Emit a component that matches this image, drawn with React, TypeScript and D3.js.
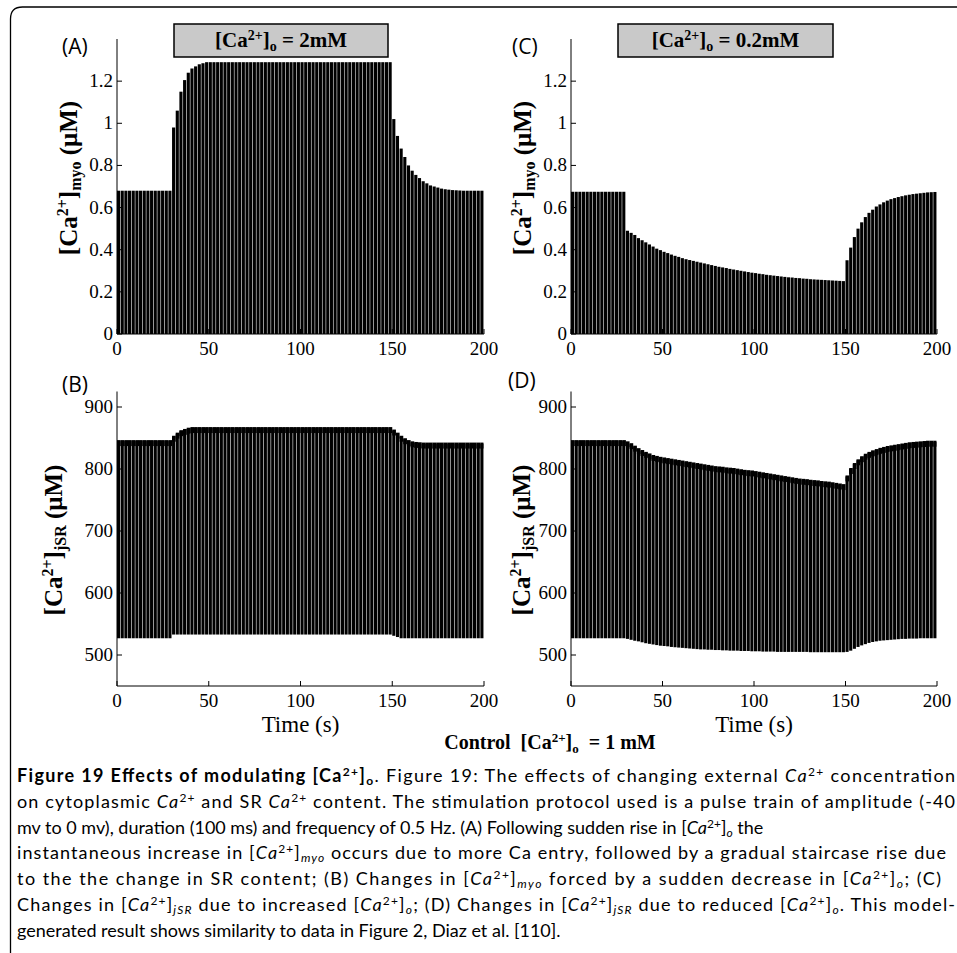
import React from 'react';
import * as d3 from 'd3';

// ---------- data ----------
const beatTimes = d3.range(0, 200, 2); // pulse train at 0.5 Hz, 100 beats
const xTicks = [0, 50, 100, 150, 200];
const myoTicks = [0, 0.2, 0.4, 0.6, 0.8, 1, 1.2];
const jsrTicks = [500, 600, 700, 800, 900];

// (A) [Ca2+]myo peaks, [Ca2+]o = 2 mM between 30 s and 150 s
const myoPeak2mM = [
  0.68, 0.68, 0.68, 0.68, 0.68, 0.68, 0.68, 0.68, 0.68, 0.68, 0.68, 0.68, 0.68, 0.68, 0.68,
  0.98, 1.06, 1.15, 1.205, 1.24, 1.26, 1.27, 1.28, 1.285,
  1.29, 1.29, 1.29, 1.29, 1.29, 1.29, 1.29, 1.29, 1.29, 1.29,
  1.29, 1.29, 1.29, 1.29, 1.29, 1.29, 1.29, 1.29, 1.29, 1.29,
  1.29, 1.29, 1.29, 1.29, 1.29, 1.29, 1.29, 1.29, 1.29, 1.29,
  1.29, 1.29, 1.29, 1.29, 1.29, 1.29, 1.29, 1.29, 1.29, 1.29,
  1.29, 1.29, 1.29, 1.29, 1.29, 1.29, 1.29, 1.29, 1.29, 1.29, 1.29,
  1.02, 0.94, 0.88, 0.84, 0.8, 0.775, 0.755, 0.74, 0.725, 0.715,
  0.705, 0.7, 0.695, 0.69, 0.687, 0.685, 0.683, 0.682, 0.681, 0.68,
  0.68, 0.68, 0.68, 0.68, 0.68,
];
// (C) [Ca2+]myo peaks, [Ca2+]o = 0.2 mM between 30 s and 150 s
const myoPeak02mM = [
  0.675, 0.675, 0.675, 0.675, 0.675, 0.675, 0.675, 0.675, 0.675, 0.675, 0.675, 0.675, 0.675, 0.675, 0.675,
  0.49, 0.48, 0.47, 0.455, 0.445, 0.435, 0.425, 0.415, 0.405, 0.398,
  0.39, 0.384, 0.377, 0.371, 0.366, 0.36, 0.355, 0.351, 0.347, 0.343,
  0.339, 0.335, 0.331, 0.327, 0.323, 0.319, 0.316, 0.313, 0.309, 0.306,
  0.303, 0.3, 0.297, 0.294, 0.291, 0.289, 0.286, 0.284, 0.281, 0.279,
  0.277, 0.275, 0.273, 0.271, 0.269, 0.268, 0.266, 0.265, 0.263, 0.262,
  0.26, 0.259, 0.258, 0.257, 0.256, 0.255, 0.254, 0.253, 0.252, 0.251,
  0.35, 0.41, 0.46, 0.5, 0.53, 0.555, 0.575, 0.59, 0.605, 0.615,
  0.625, 0.633, 0.64, 0.645, 0.65, 0.654, 0.658, 0.661, 0.664, 0.666,
  0.668, 0.67, 0.672, 0.673, 0.674,
];
const myoTrough = 0;

// (B) [Ca2+]jSR, 2 mM
const jsrPeak2mM = [
  845, 845, 845, 845, 845, 845, 845, 845, 845, 845, 845, 845, 845, 845, 845,
  852, 857, 861, 863, 865,
  866, 866, 866, 866, 866, 866, 866, 866, 866, 866, 866,
  866, 866, 866, 866, 866, 866, 866, 866, 866, 866, 866,
  866, 866, 866, 866, 866, 866, 866, 866, 866, 866, 866,
  866, 866, 866, 866, 866, 866, 866, 866, 866, 866, 866,
  866, 866, 866, 866, 866, 866, 866, 866, 866, 866, 866,
  862, 857, 852, 848, 845, 843, 842, 841.5, 841, 841,
  841, 841, 841, 841, 841, 841, 841, 841, 841, 841,
  841, 841, 841, 841, 841,
];
const jsrTrough2mM = [
  527, 527, 527, 527, 527, 527, 527, 527, 527, 527, 527, 527, 527, 527, 527,
  533, 533, 533, 533, 533, 533, 533, 533, 533, 533,
  533, 533, 533, 533, 533, 533, 533, 533, 533, 533,
  533, 533, 533, 533, 533, 533, 533, 533, 533, 533,
  533, 533, 533, 533, 533, 533, 533, 533, 533, 533,
  533, 533, 533, 533, 533, 533, 533, 533, 533, 533,
  533, 533, 533, 533, 533, 533, 533, 533, 533, 533,
  531, 529, 527, 527, 527, 527, 527, 527, 527, 527,
  527, 527, 527, 527, 527, 527, 527, 527, 527, 527,
  527, 527, 527, 527, 527,
];
// (D) [Ca2+]jSR, 0.2 mM
const jsrPeak02mM = [
  845, 845, 845, 845, 845, 845, 845, 845, 845, 845, 845, 845, 845, 845, 845,
  843, 840, 836, 832, 829, 826, 823.5, 821, 819.5, 818,
  817, 816, 815, 814, 813, 812, 811, 810, 809, 808,
  807, 806, 805, 804, 803, 802.5, 802, 801, 800.5, 800,
  799, 798, 797, 796.5, 796, 795, 794, 793, 792, 791,
  790, 789, 788, 787, 786, 785, 784, 783, 782.5, 782,
  781, 780.5, 780, 779, 778.5, 778, 777, 776, 775, 774,
  788, 800, 808, 814, 819, 823, 826, 828.5, 830.5, 832.5,
  834, 835.5, 836.5, 837.5, 838.5, 839.5, 840.5, 841.5, 842, 842.5,
  843, 843.5, 844, 844, 844,
];
const jsrTrough02mM = [
  527, 527, 527, 527, 527, 527, 527, 527, 527, 527, 527, 527, 527, 527, 527,
  526, 524.5, 523, 522, 520.5, 519, 518, 517, 516, 515,
  514.5, 514, 513, 512.5, 512, 511.5, 511, 510.5, 510, 509.5,
  509, 509, 508.5, 508.5, 508, 508, 507.5, 507.5, 507, 507,
  507, 506.5, 506.5, 506.5, 506, 506, 506, 505.5, 505.5, 505.5,
  505.5, 505, 505, 505, 505, 505, 505, 505, 505, 505,
  504.5, 504.5, 504.5, 504.5, 504.5, 504.5, 504.5, 504.5, 504.5, 504.5,
  505, 507, 510, 513, 515.5, 517.5, 519.5, 521, 522, 523,
  523.5, 524, 524.5, 525, 525.5, 526, 526, 526.5, 526.5, 526.5,
  527, 527, 527, 527, 527,
];

// caption
type Seg = { t: string; b?: boolean; i?: boolean; sup?: boolean; sub?: boolean };
const captionLines: Seg[][] = [
  [
    { t: 'Figure 19 Effects of modulating [Ca', b: true },
    { t: '2+', b: true, sup: true },
    { t: ']', b: true },
    { t: 'o', b: true, sub: true },
    { t: '. Figure 19: The effects of changing external ' },
    { t: 'Ca', i: true },
    { t: '2+', sup: true },
    { t: ' concentration' },
  ],
  [
    { t: 'on cytoplasmic ' },
    { t: 'Ca', i: true },
    { t: '2+', sup: true },
    { t: ' and SR ' },
    { t: 'Ca', i: true },
    { t: '2+', sup: true },
    { t: ' content. The stimulation protocol used is a pulse train of amplitude (-40' },
  ],
  [
    { t: 'mv to 0 mv), duration (100 ms) and frequency of 0.5 Hz. (A) Following sudden rise in [' },
    { t: 'Ca', i: true },
    { t: '2+', sup: true },
    { t: ']' },
    { t: 'o', i: true, sub: true },
    { t: ' the' },
  ],
  [
    { t: 'instantaneous increase in [' },
    { t: 'Ca', i: true },
    { t: '2+', sup: true },
    { t: ']' },
    { t: 'myo', i: true, sub: true },
    { t: ' occurs due to more Ca entry, followed by a gradual staircase rise due' },
  ],
  [
    { t: 'to the the change in SR content; (B) Changes in [' },
    { t: 'Ca', i: true },
    { t: '2+', sup: true },
    { t: ']' },
    { t: 'myo', i: true, sub: true },
    { t: ' forced by a sudden decrease in [' },
    { t: 'Ca', i: true },
    { t: '2+', sup: true },
    { t: ']' },
    { t: 'o', i: true, sub: true },
    { t: '; (C)' },
  ],
  [
    { t: 'Changes in [' },
    { t: 'Ca', i: true },
    { t: '2+', sup: true },
    { t: ']' },
    { t: 'jSR', i: true, sub: true },
    { t: ' due to increased [' },
    { t: 'Ca', i: true },
    { t: '2+', sup: true },
    { t: ']' },
    { t: 'o', i: true, sub: true },
    { t: '; (D) Changes in [' },
    { t: 'Ca', i: true },
    { t: '2+', sup: true },
    { t: ']' },
    { t: 'jSR', i: true, sub: true },
    { t: ' due to reduced [' },
    { t: 'Ca', i: true },
    { t: '2+', sup: true },
    { t: ']' },
    { t: 'o', i: true, sub: true },
    { t: '. This model-' },
  ],
  [{ t: 'generated result shows similarity to data in Figure 2, Diaz et al. [110].' }],
];
const captionWidths = [938, 938, null, 929, 924, 938, null];

// ---------- styling ----------
const W = 957;
const H = 953;
const serif = "'Liberation Serif', 'Times New Roman', serif";
const sans = "'Open Sans', 'Noto Sans', sans-serif";
const capFont = "Lato, 'Open Sans', sans-serif";

type PanelProps = {
  xRange: [number, number];
  yDomain: [number, number];
  yRange: [number, number];
  yTicks: number[];
  peaks: number[];
  troughs: number[] | number;
  band?: boolean;
  kind: 'myo' | 'jsr';
  ylabelX: number;
  ylabelY: number;
  letter: string;
  letterX: number;
  letterY: number;
  title?: string;
  titleBox?: [number, number, number, number];
  timeLabel?: boolean;
};

function YLabel({ kind, x, y }: { kind: 'myo' | 'jsr'; x: number; y: number }) {
  return (
    <text
      transform={`translate(${x},${y}) rotate(-90)`}
      textAnchor="middle"
      fontFamily={serif}
      fontWeight="bold"
      fontSize={25}
      fill="#000"
    >
      [Ca
      <tspan fontSize={16} baselineShift={9}>2+</tspan>]
      <tspan fontSize={16} baselineShift={-4}>{kind === 'myo' ? 'myo' : 'jSR'}</tspan>
      {' (\u03bcM)'}
    </text>
  );
}

function Panel(p: PanelProps) {
  const xs = d3.scaleLinear().domain([0, 200]).range(p.xRange);
  const ys = d3.scaleLinear().domain(p.yDomain).range(p.yRange);
  const y0 = p.yRange[0];
  const ax = p.xRange[0];
  const fmt = (v: number) => (p.kind === 'myo' ? d3.format('~g')(v) : String(v));
  const trough = (i: number) => (typeof p.troughs === 'number' ? p.troughs : p.troughs[i]);
  return (
    <g>
      {/* beats */}
      <g fill="#000">
        {beatTimes.map((t, i) => {
          const xa = xs(t);
          const xb = xs(t + 1.7);
          const yt = ys(p.peaks[i]);
          const yb = ys(trough(i));
          return <rect key={i} x={xa} y={yt} width={xb - xa} height={yb - yt} />;
        })}
        {p.band &&
          beatTimes.map((t, i) => {
            const xa = xs(t);
            const xb = xs(Math.min(t + 2, 199.7));
            const yt = ys(p.peaks[i]) - 1;
            const yb = ys(p.peaks[i] - 8);
            return <rect key={'b' + i} x={xa} y={yt} width={xb - xa} height={yb - yt} />;
          })}
      </g>
      {/* axes */}
      <g stroke="#000" strokeWidth={1} fill="none">
        <line x1={ax} x2={ax} y1={p.yRange[1]} y2={y0} />
        <line x1={ax} x2={p.xRange[1]} y1={y0} y2={y0} />
        {p.yTicks.map((v) => (
          <line key={v} x1={ax} x2={ax + 5} y1={ys(v)} y2={ys(v)} />
        ))}
        {xTicks.map((v) => (
          <line key={v} x1={xs(v)} x2={xs(v)} y1={y0} y2={y0 - 5} />
        ))}
      </g>
      <g fontFamily={serif} fontSize={19} fill="#000">
        {p.yTicks.map((v) => (
          <text key={v} x={ax - 4} y={ys(v) + 6} textAnchor="end">
            {fmt(v)}
          </text>
        ))}
        {xTicks.map((v) => (
          <text key={v} x={xs(v)} y={y0 + 21} textAnchor="middle">
            {v}
          </text>
        ))}
      </g>
      <YLabel kind={p.kind} x={p.ylabelX} y={p.ylabelY} />
      <text x={p.letterX} y={p.letterY} fontFamily={sans} fontSize={21} fill="#000">
        {p.letter}
      </text>
      {p.titleBox && (
        <g>
          <rect
            x={p.titleBox[0]}
            y={p.titleBox[1]}
            width={p.titleBox[2]}
            height={p.titleBox[3]}
            fill="#c9c9c9"
            stroke="#000"
            strokeWidth={1.5}
          />
          <text
            x={p.titleBox[0] + p.titleBox[2] / 2}
            y={p.titleBox[1] + 23}
            textAnchor="middle"
            fontFamily={serif}
            fontWeight="bold"
            fontSize={21}
            fill="#000"
          >
            [Ca<tspan fontSize={14} baselineShift={7}>2+</tspan>]
            <tspan fontSize={14} baselineShift={-4}>o</tspan>
            {' = ' + p.title}
          </text>
        </g>
      )}
      {p.timeLabel && (
        <text
          x={(p.xRange[0] + p.xRange[1]) / 2}
          y={y0 + 46}
          textAnchor="middle"
          fontFamily={serif}
          fontSize={23}
          fill="#000"
        >
          Time (s)
        </text>
      )}
    </g>
  );
}

function Caption() {
  return (
    <g fontFamily={capFont} fontSize={18} fill="#000">
      {captionLines.map((line, k) => (
        <text
          key={k}
          x={17}
          y={782 + k * 25.8}
          textLength={captionWidths[k] ?? undefined}
          lengthAdjust={captionWidths[k] ? 'spacing' : undefined}
        >
          {line.map((s, j) => (
            <tspan
              key={j}
              fontWeight={s.b ? 'bold' : 'normal'}
              fontStyle={s.i ? 'italic' : 'normal'}
              fontSize={s.sup || s.sub ? 12 : 18}
              baselineShift={s.sup ? 6 : s.sub ? -3 : undefined}
            >
              {s.t}
            </tspan>
          ))}
        </text>
      ))}
    </g>
  );
}

export default function App() {
  const myoY: [number, number] = [334, 39];
  const jsrY: [number, number] = [686, 391.5];
  return (
    <svg
      width={W}
      height={H}
      viewBox={`0 0 ${W} ${H}`}
      style={{ position: 'absolute', left: 0, top: 0, background: '#fff' }}
    >
      <rect x={0} y={0} width={W} height={H} fill="#fff" />
      <path d={`M10.5,${H} L10.5,19 Q10.5,7 22.5,7 L${W},7`} fill="none" stroke="#000" strokeWidth={1.3} />
      <Panel
        xRange={[117, 484]}
        yDomain={[0, 1.4]}
        yRange={myoY}
        yTicks={myoTicks}
        peaks={myoPeak2mM}
        troughs={myoTrough}
        kind="myo"
        ylabelX={77}
        ylabelY={178}
        letter="(A)"
        letterX={62}
        letterY={54}
        title="2mM"
        titleBox={[174, 24, 214, 33]}
      />
      <Panel
        xRange={[571, 937]}
        yDomain={[0, 1.4]}
        yRange={myoY}
        yTicks={myoTicks}
        peaks={myoPeak02mM}
        troughs={myoTrough}
        kind="myo"
        ylabelX={531}
        ylabelY={178}
        letter="(C)"
        letterX={512}
        letterY={54}
        title="0.2mM"
        titleBox={[618, 24, 215, 33]}
      />
      <Panel
        xRange={[117, 484]}
        yDomain={[450, 925]}
        yRange={jsrY}
        yTicks={jsrTicks}
        peaks={jsrPeak2mM}
        troughs={jsrTrough2mM}
        band
        kind="jsr"
        ylabelX={62}
        ylabelY={540}
        letter="(B)"
        letterX={62}
        letterY={392}
        timeLabel
      />
      <Panel
        xRange={[571, 937]}
        yDomain={[450, 925]}
        yRange={jsrY}
        yTicks={jsrTicks}
        peaks={jsrPeak02mM}
        troughs={jsrTrough02mM}
        band
        kind="jsr"
        ylabelX={530}
        ylabelY={540}
        letter="(D)"
        letterX={508}
        letterY={388}
        timeLabel
      />
      <text x={550} y={749} textAnchor="middle" fontFamily={serif} fontWeight="bold" fontSize={20} fill="#000" style={{ whiteSpace: 'pre' }}>
        {'Control  [Ca'}
        <tspan fontSize={13} baselineShift={7}>2+</tspan>]
        <tspan fontSize={13} baselineShift={-4}>o</tspan>
        {'  = 1 mM'}
      </text>
      <Caption />
    </svg>
  );
}
